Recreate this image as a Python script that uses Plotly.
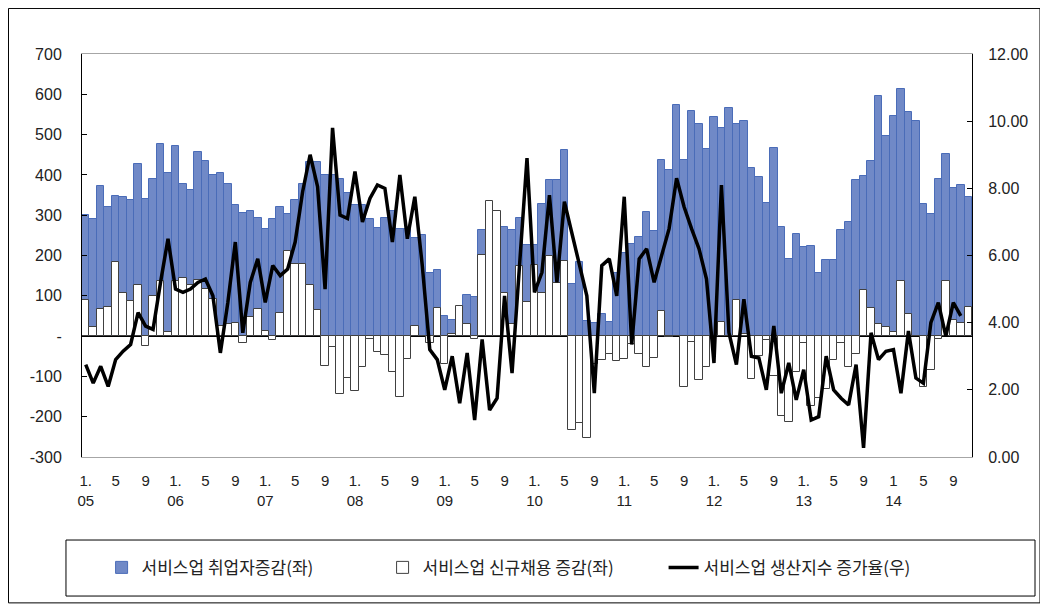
import plotly.graph_objects as go

# 서비스업 취업자 증감 (천명, 좌축) 2005.1 ~ 2014.11
emp_change = [300, 291, 373, 320, 348, 344, 337, 427, 340, 391, 477, 404,
              471, 377, 363, 458, 434, 401, 404, 377, 325, 306, 310, 293,
              267, 290, 320, 304, 337, 377, 433, 433, 400, 400, 391, 354,
              325, 325, 291, 268, 294, 310, 267, 267, 244, 250, 157, 164,
              51, 41, 30, 103, 97, 264, 250, 260, 271, 264, 293, 227,
              225, 328, 387, 387, 461, 129, 185, 38, 32, 55, 36, 156,
              206, 228, 245, 307, 260, 438, 411, 574, 438, 558, 527, 465,
              544, 517, 567, 527, 534, 417, 394, 330, 467, 270, 192, 254,
              221, 223, 157, 188, 188, 264, 284, 387, 397, 434, 597, 497,
              547, 614, 555, 534, 328, 304, 391, 453, 368, 374, 344]

# 서비스업 신규채용 증감 (천명, 좌축)
hire_change = [89, 23, 67, 73, 184, 106, 86, 126, -25, 99, 136, 10,
               136, 143, 126, 140, 117, 91, 25, 29, 33, -17, 47, 68,
               12, -10, 58, 211, 178, 178, 126, 66, -73, -26, -143, -103,
               -136, -77, -7, -39, -48, -89, -150, -56, 26, 0, -17, 70,
               -70, 4, 74, 29, -7, 202, 336, 310, 106, 31, 174, 85,
               177, 107, 199, 133, 187, -232, -216, -253, -70, -60, -45, -63,
               -57, -20, -45, -77, -54, 62, -2, 0, -126, -14, -108, -76,
               0, 34, 0, 90, 5, -107, -50, -10, -100, -199, -212, -88,
               -18, -174, -153, -132, -59, -17, -77, -45, 114, 70, 29, 23,
               10, 136, 56, 0, -126, -83, -8, 136, 40, 33, 73]

# 서비스업 생산지수 증가율 (%, 우축) 2005.1 ~ 2014.10
output_growth = [2.75, 2.2, 2.7, 2.1, 2.9, 3.15, 3.35, 4.3, 3.9, 3.8, 5.2, 6.5,
                 5.0, 4.9, 5.0, 5.2, 5.3, 4.8, 3.1, 4.6, 6.4, 3.7, 5.2, 5.9,
                 4.6, 5.7, 5.4, 5.6, 6.4, 7.9, 9.0, 8.05, 5.0, 9.8, 7.2, 7.1,
                 8.5, 7.0, 7.7, 8.1, 8.0, 6.4, 8.4, 6.5, 7.75, 5.7, 3.2, 2.9,
                 2.0, 3.0, 1.6, 3.1, 1.1, 3.5, 1.4, 1.75, 4.8, 2.5, 5.7, 8.9,
                 4.9, 5.5, 7.8, 5.2, 7.6, 6.7, 5.8, 4.8, 1.9, 5.7, 5.9, 4.8,
                 7.75, 3.35, 5.9, 6.2, 5.2, 6.0, 6.8, 8.3, 7.45, 6.8, 6.2, 5.3,
                 2.8, 8.1, 3.7, 2.75, 4.7, 3.0, 2.95, 2.0, 3.9, 1.9, 2.8, 1.7,
                 2.6, 1.1, 1.2, 3.0, 2.0, 1.75, 1.55, 2.75, 0.27, 3.7, 2.9, 3.15,
                 3.2, 1.9, 3.75, 2.35, 2.2, 4.0, 4.6, 3.6, 4.6, 4.2]

tick_text = ["1.<br>05", "5", "9", "1.<br>06", "5", "9", "1.<br>07", "5", "9",
             "1.<br>08", "5", "9", "1.<br>09", "5", "9", "1.<br>10", "5", "9",
             "1.<br>11", "5", "9", "1.<br>12", "5", "9", "1.<br>13", "5", "9",
             "1<br>14", "5", "9"]

left_ticks = [-300, -200, -100, 0, 100, 200, 300, 400, 500, 600, 700]
left_text = ["-300", "-200", "-100", "-", "100", "200", "300", "400", "500", "600", "700"]
right_ticks = [0, 2, 4, 6, 8, 10, 12]

x = list(range(len(emp_change)))

fig = go.Figure()
fig.add_trace(go.Bar(x=x, y=emp_change, name="서비스업 취업자증감(좌)", width=1,
                     marker=dict(color="#7089c7", line=dict(color="#4a6cb8", width=1))))
fig.add_trace(go.Bar(x=x, y=hire_change, name="서비스업 신규채용 증감(좌)", width=1,
                     marker=dict(color="white", line=dict(color="#404040", width=1))))
fig.add_trace(go.Scatter(x=x[:len(output_growth)], y=output_growth, yaxis="y2",
                         name="서비스업 생산지수 증가율(우)", mode="lines",
                         line=dict(color="black", width=3.5)))

tickfont = dict(family="Liberation Sans, Arial, sans-serif", size=16, color="#222")

# page body has an 8px margin, so margins are set 8px less on left/top
fig.update_layout(
    width=1048, height=604,
    margin=dict(l=74, r=84, t=46, b=155),
    paper_bgcolor="white", plot_bgcolor="white",
    barmode="overlay", bargap=0,
    xaxis=dict(range=[-0.5, 118.5], tickvals=list(range(0, 119, 4)), ticktext=tick_text,
               showline=True, linecolor="#a6a6a6", mirror=True, ticks="", showgrid=False,
               zeroline=False, ticklabelstandoff=10,
               tickfont=dict(family="Liberation Sans Narrow, Arial Narrow, sans-serif",
                             size=15, color="#222")),
    yaxis=dict(range=[-300, 700], tickvals=left_ticks, ticktext=left_text,
               showline=True, linecolor="black", ticks="inside", ticklen=5, tickcolor="black",
               showgrid=False, zeroline=True, zerolinecolor="black", zerolinewidth=1,
               ticklabelstandoff=16, tickfont=tickfont),
    yaxis2=dict(range=[0, 12], tickvals=right_ticks, tickformat=".2f", overlaying="y",
                side="right", showline=True, linecolor="black", ticks="inside", ticklen=5,
                tickcolor="black", showgrid=False, zeroline=False,
                ticklabelstandoff=12, tickfont=tickfont),
    legend=dict(orientation="h", x=0.022, xanchor="left", y=-0.275, yanchor="middle",
                font=dict(family="Noto Sans CJK KR", size=17, color="#222"),
                entrywidth=236, itemwidth=30, bgcolor="rgba(0,0,0,0)"),
    shapes=[
        dict(type="rect", xref="paper", yref="paper", x0=-0.018, x1=1.0708,
             y0=-0.345, y1=-0.206, line=dict(color="black", width=1)),
        dict(type="rect", xref="paper", yref="paper", x0=-0.0826, x1=1.0764,
             y0=-0.362, y1=1.113, line=dict(color="black", width=1)),
    ],
)

fig.write_html("out.html")
